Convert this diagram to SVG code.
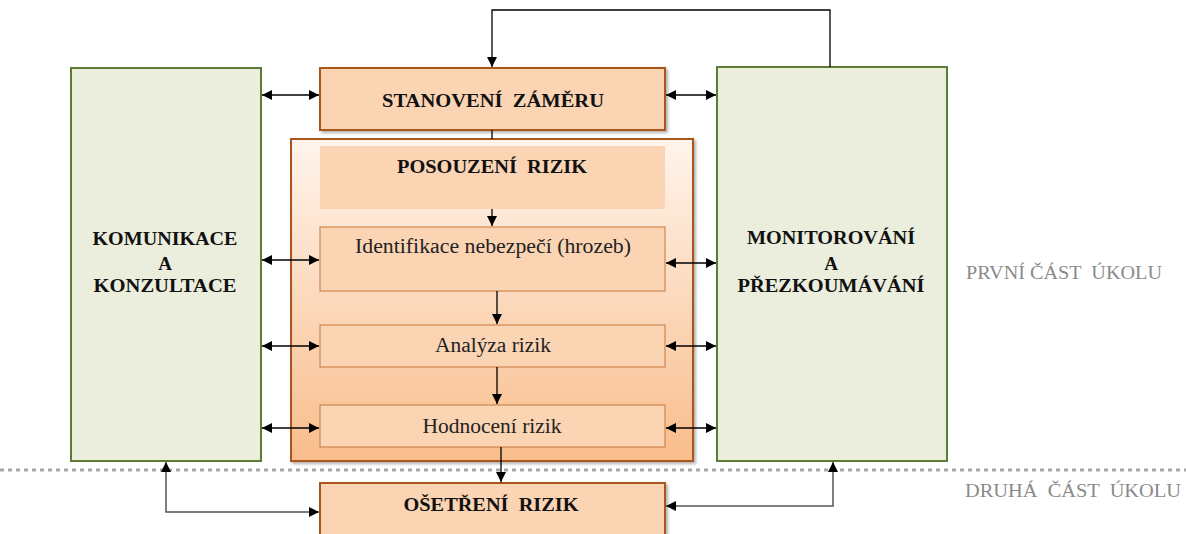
<svg xmlns="http://www.w3.org/2000/svg" width="1186" height="534" viewBox="0 0 1186 534">
<style>
.green{fill:#EBEEDD;stroke:#5E7A35;stroke-width:2}
.main{fill:#FBD4B4;stroke:#A9561C;stroke-width:2}
.sub{fill:#FBD4B4;stroke:#C7793A;stroke-width:1}
.bt{font-family:"Liberation Serif","Times New Roman",serif;font-weight:bold;font-size:19px;fill:#111;text-anchor:middle;white-space:pre}
.rt{font-family:"Liberation Serif","Times New Roman",serif;font-size:20px;fill:#222;text-anchor:middle}
.gt{font-family:"Liberation Serif","Times New Roman",serif;font-size:19px;fill:#8A8A8A;white-space:pre}
.ln{fill:none;stroke:#000;stroke-width:1.3}
.lg{fill:none;stroke:#555;stroke-width:1.5}
</style>
<defs>
<marker id="ah" viewBox="0 0 10 10" refX="10" refY="5" markerWidth="10" markerHeight="10" markerUnits="userSpaceOnUse" orient="auto-start-reverse">
<path d="M0,0 L10,5 L0,10 z" fill="#000"/>
</marker>
<linearGradient id="og" x1="0" y1="0" x2="0" y2="1">
<stop offset="0" stop-color="#FFF4EC"/>
<stop offset="1" stop-color="#F9BD8C"/>
</linearGradient>
<filter id="sh" x="-10%" y="-10%" width="120%" height="120%">
<feDropShadow dx="2" dy="2" stdDeviation="1.5" flood-color="#000" flood-opacity="0.3"/>
</filter>
</defs>
<rect width="1186" height="534" fill="#fff"/>
<line x1="0" y1="470" x2="1186" y2="470" stroke="#A8A8A8" stroke-width="3" stroke-dasharray="4 4"/>
<text class="gt" x="966" y="279" textLength="196" lengthAdjust="spacingAndGlyphs">PRVNÍ ČÁST  ÚKOLU</text>
<text class="gt" x="965" y="497" textLength="216" lengthAdjust="spacingAndGlyphs">DRUHÁ  ČÁST  ÚKOLU</text>
<g id="komunikace">
<rect class="green" x="71" y="68" width="190" height="393"/>
<text class="bt" x="165" y="245" textLength="145" lengthAdjust="spacingAndGlyphs">KOMUNIKACE</text>
<text class="bt" x="165" y="270">A</text>
<text class="bt" x="165" y="292" textLength="143" lengthAdjust="spacingAndGlyphs">KONZULTACE</text>
</g>
<g id="monitorovani">
<rect class="green" x="717" y="67" width="230" height="394"/>
<text class="bt" x="831" y="244" textLength="168" lengthAdjust="spacingAndGlyphs">MONITOROVÁNÍ</text>
<text class="bt" x="831" y="270">A</text>
<text class="bt" x="831" y="292" textLength="187" lengthAdjust="spacingAndGlyphs">PŘEZKOUMÁVÁNÍ</text>
</g>
<g id="stanoveni">
<rect class="main" x="320" y="68" width="345" height="62" filter="url(#sh)"/>
<text class="bt" x="493" y="107" textLength="222" lengthAdjust="spacingAndGlyphs">STANOVENÍ  ZÁMĚRU</text>
</g>
<g id="posouzeni">
<rect x="291" y="139" width="402" height="322" fill="url(#og)" stroke="#A9561C" stroke-width="2" filter="url(#sh)"/>
<rect x="320" y="146" width="345" height="63" fill="#FBD4B4"/>
<text class="bt" x="492" y="173" textLength="190" lengthAdjust="spacingAndGlyphs">POSOUZENÍ  RIZIK</text>
</g>
<g id="identifikace">
<rect class="sub" x="320" y="227" width="345" height="64"/>
<text class="rt" x="493" y="253" textLength="276" lengthAdjust="spacingAndGlyphs">Identifikace nebezpečí (hrozeb)</text>
</g>
<g id="analyza">
<rect class="sub" x="320" y="325" width="345" height="42"/>
<text class="rt" x="493" y="352" textLength="116" lengthAdjust="spacingAndGlyphs">Analýza rizik</text>
</g>
<g id="hodnoceni">
<rect class="sub" x="320" y="405" width="345" height="42"/>
<text class="rt" x="492" y="433" textLength="139" lengthAdjust="spacingAndGlyphs">Hodnocení rizik</text>
</g>
<g id="osetreni">
<rect class="main" x="320" y="483" width="345" height="60" filter="url(#sh)"/>
<text class="bt" x="491" y="511" textLength="175" lengthAdjust="spacingAndGlyphs">OŠETŘENÍ  RIZIK</text>
</g>
<g id="connectors">
<path class="ln" d="M830,67 V10 H492 V67" marker-end="url(#ah)"/>
<line class="ln" x1="492" y1="130" x2="492" y2="139"/>
<line class="ln" x1="492" y1="209" x2="492" y2="226" marker-end="url(#ah)"/>
<line class="ln" x1="497" y1="291" x2="497" y2="324" marker-end="url(#ah)"/>
<line class="ln" x1="497" y1="367" x2="497" y2="404" marker-end="url(#ah)"/>
<line class="ln" x1="501" y1="447" x2="501" y2="482" marker-end="url(#ah)"/>
<line class="ln" x1="262" y1="95" x2="319" y2="95" marker-start="url(#ah)" marker-end="url(#ah)"/>
<line class="ln" x1="262" y1="260" x2="319" y2="260" marker-start="url(#ah)" marker-end="url(#ah)"/>
<line class="ln" x1="262" y1="346" x2="319" y2="346" marker-start="url(#ah)" marker-end="url(#ah)"/>
<line class="ln" x1="262" y1="428" x2="319" y2="428" marker-start="url(#ah)" marker-end="url(#ah)"/>
<line class="ln" x1="666" y1="95" x2="716" y2="95" marker-start="url(#ah)" marker-end="url(#ah)"/>
<line class="ln" x1="666" y1="263" x2="716" y2="263" marker-start="url(#ah)" marker-end="url(#ah)"/>
<line class="ln" x1="666" y1="346" x2="716" y2="346" marker-start="url(#ah)" marker-end="url(#ah)"/>
<line class="ln" x1="666" y1="428" x2="716" y2="428" marker-start="url(#ah)" marker-end="url(#ah)"/>
<path class="lg" d="M166,462 V512 H319" marker-start="url(#ah)" marker-end="url(#ah)"/>
<path class="lg" d="M833,462 V506 H666" marker-start="url(#ah)" marker-end="url(#ah)"/>
</g>
</svg>
